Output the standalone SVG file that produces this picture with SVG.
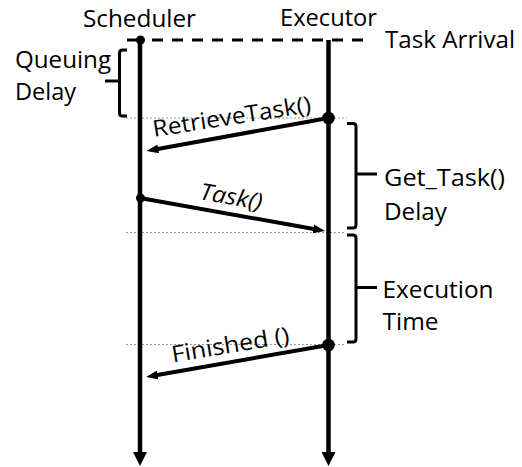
<svg xmlns="http://www.w3.org/2000/svg" width="522" height="467" viewBox="0 0 522 467">
  <style>
    .lbl { font-family: "Open Sans", "Noto Sans", "Liberation Sans", sans-serif; font-size: 24px; fill: #000; }
    .msg { font-family: "Open Sans", "Noto Sans", "Liberation Sans", sans-serif; font-size: 23px; fill: #000; }
    .life { stroke: #000; stroke-width: 4.5; fill: none; }
    .call { stroke: #000; stroke-width: 4; fill: none; }
    .guide { stroke: #9a9a9a; stroke-width: 1; stroke-dasharray: 2 2; fill: none; }
    .arrival { stroke: #000; stroke-width: 3; fill: none; }
    .brace { stroke: #000; stroke-width: 3; fill: none; stroke-linejoin: round; }
  </style>
  <defs>
    <marker id="headBig" markerUnits="userSpaceOnUse" markerWidth="14" markerHeight="14" refX="1" refY="7" orient="auto">
      <path d="M0,0 L14,7 L0,14 z" fill="#000"/>
    </marker>
    <marker id="headSmall" markerUnits="userSpaceOnUse" markerWidth="12" markerHeight="10" refX="2" refY="4.5" orient="auto">
      <path d="M0,0 L12,4.5 L0,9 z" fill="#000"/>
    </marker>
  </defs>

  <!-- time guides -->
  <g id="guides">
    <line class="guide" x1="126" y1="118" x2="347" y2="118"/>
    <line class="guide" x1="126" y1="232.5" x2="345" y2="232.5"/>
    <line class="guide" x1="126" y1="344.5" x2="345" y2="344.5"/>
  </g>

  <!-- task arrival marker -->
  <g id="arrival">
    <line class="arrival" x1="127" y1="40" x2="141" y2="40"/>
    <line class="arrival" x1="152" y1="40" x2="368" y2="40" stroke-dasharray="11 9"/>
    <text class="lbl" x="385" y="48" textLength="130" lengthAdjust="spacingAndGlyphs">Task Arrival</text>
  </g>

  <!-- lifelines -->
  <g id="scheduler">
    <text class="lbl" x="83" y="27" textLength="113" lengthAdjust="spacingAndGlyphs">Scheduler</text>
    <line class="life" x1="140" y1="40" x2="140" y2="453" marker-end="url(#headBig)"/>
    <circle cx="140.5" cy="40" r="4.5" fill="#000"/>
  </g>
  <g id="executor">
    <text class="lbl" x="280" y="25.5" textLength="97" lengthAdjust="spacingAndGlyphs">Executor</text>
    <line class="life" x1="328.5" y1="40" x2="328.5" y2="453" marker-end="url(#headBig)"/>
  </g>

  <!-- messages -->
  <g id="connectors">
    <line class="call" x1="328.5" y1="118" x2="156.3" y2="149.2" marker-end="url(#headSmall)"/>
    <line class="call" x1="140" y1="198" x2="315.2" y2="229.2" marker-end="url(#headSmall)"/>
    <line class="call" x1="328.5" y1="345" x2="155.9" y2="375.3" marker-end="url(#headSmall)"/>
    <circle cx="328.5" cy="118" r="6.3" fill="#000"/>
    <circle cx="140.5" cy="198" r="4.5" fill="#000"/>
    <circle cx="328.5" cy="345" r="6.3" fill="#000"/>
    <text class="msg" transform="translate(154,137) rotate(-9)" textLength="160" lengthAdjust="spacingAndGlyphs">RetrieveTask()</text>
    <text class="msg" transform="translate(199,199) rotate(10)" font-style="italic" textLength="63" lengthAdjust="spacingAndGlyphs">Task()</text>
    <text class="msg" transform="translate(173,362.5) rotate(-9.5)" textLength="119" lengthAdjust="spacingAndGlyphs">Finished ()</text>
  </g>

  <!-- interval braces -->
  <g id="queuing-delay">
    <path class="brace" d="M127,50 H122.5 Q119.5,50 119.5,53 V113 Q119.5,116 122.5,116 H127"/>
    <path class="brace" d="M119.5,81 H105"/>
    <text class="lbl" x="15" y="67.5" textLength="96" lengthAdjust="spacingAndGlyphs">Queuing</text>
    <text class="lbl" x="15" y="99.5" textLength="61" lengthAdjust="spacingAndGlyphs">Delay</text>
  </g>
  <g id="get-task-delay">
    <path class="brace" d="M347,123.5 H353 Q356,123.5 356,126.5 V225 Q356,228 353,228 H347"/>
    <path class="brace" d="M356,174 H377"/>
    <text class="lbl" x="384" y="186" textLength="121" lengthAdjust="spacingAndGlyphs">Get_Task()</text>
    <text class="lbl" x="384" y="220" textLength="63" lengthAdjust="spacingAndGlyphs">Delay</text>
  </g>
  <g id="execution-time">
    <path class="brace" d="M347,235 H353 Q356,235 356,238 V339 Q356,342 353,342 H347"/>
    <path class="brace" d="M356,287.5 H377"/>
    <text class="lbl" x="382.5" y="297.5" textLength="111" lengthAdjust="spacingAndGlyphs">Execution</text>
    <text class="lbl" x="382.5" y="330" textLength="56" lengthAdjust="spacingAndGlyphs">Time</text>
  </g>
</svg>
